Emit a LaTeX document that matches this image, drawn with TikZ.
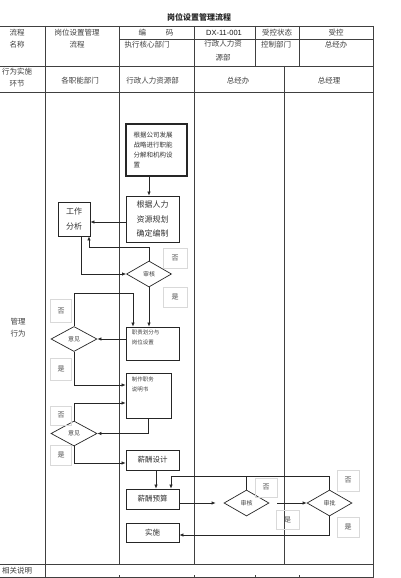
\documentclass[tikz,border=0pt]{standalone}
\usepackage{fontspec}
\setmainfont{Noto Sans CJK SC}
\newfontfamily\latinsans{Liberation Sans}
\usetikzlibrary{shapes.geometric,arrows.meta}
\begin{document}
\begin{tikzpicture}[x=1pt,y=-1pt,
  tl/.style={draw=black!75, line width=0.6pt},
  ht/.style={font=\fontsize{7.5}{12}\selectfont, text=black!75, inner sep=0pt, align=center},
  fbox/.style={draw=black!85, line width=0.8pt, inner sep=0pt, align=center, text=black!80, font=\fontsize{7.5}{14.5}\selectfont},
  smalltxt/.style={inner sep=0pt, align=left, text=black!75, font=\fontsize{5.5}{10}\selectfont, anchor=north west},
  dia/.style={diamond, draw=black!85, line width=0.7pt, inner sep=0pt, minimum width=45pt, minimum height=26pt, text=black!75, font=\fontsize{6}{7}\selectfont},
  lb/.style={draw=black!15, line width=0.5pt, minimum width=22pt, minimum height=20pt, inner sep=0pt, text=black!70, font=\fontsize{7}{8}\selectfont},
  arr/.style={draw=black!85, line width=0.7pt, -{Latex[length=4pt,width=3.5pt]}},
  ln/.style={draw=black!85, line width=0.7pt}]
\useasboundingbox (0,0) rectangle (400,578);
\fill[white] (0,0) rectangle (400,578);

% table lines
\draw[tl] (0,26) -- (373,26);
\draw[tl] (119,39.5) -- (373,39.5);
\draw[tl] (0,66) -- (373,66);
\draw[tl] (0,92) -- (373,92);
\draw[tl] (0,564) -- (373,564);
\draw[tl] (0,577) -- (373,577);
\draw[tl] (45,26) -- (45,577);
\draw[tl] (119,26) -- (119,564);
\draw[tl] (194,26) -- (194,564);
\draw[tl] (255,26) -- (255,66);
\draw[tl] (299,26) -- (299,66);
\draw[tl] (284,66) -- (284,564);
\draw[tl] (373,26) -- (373,578);
\foreach \xx in {119,194,255,299} \draw[tl] (\xx,575) -- (\xx,578);

% header texts
\node[ht, font=\fontsize{8}{10}\selectfont\bfseries, text=black!85] (title) at (199,17) {岗位设置管理流程};
\node[ht] (h1) at (17,39) {流程\\名称};
\node[ht] (h2) at (77,39) {岗位设置管理\\流程};
\node[ht] (h3) at (156,33) {编\hspace{20pt}码};
\node[ht, font=\latinsans\fontsize{7.5}{9}\selectfont, text=black!90] (h4) at (224,32.5) {DX-11-001};
\node[ht] (h5) at (277,33) {受控状态};
\node[ht] (h6) at (336,33) {受控};
\node[ht] (h7) at (147,45) {执行核心部门};
\node[ht, font=\fontsize{7.5}{14}\selectfont] (h8) at (223,51) {行政人力资\\源部};
\node[ht] (h9) at (276,45) {控制部门};
\node[ht] (h10) at (336,45) {总经办};
\node[ht] (h11) at (17,78) {行为实施\\环节};
\node[ht] (h12) at (80,81) {各职能部门};
\node[ht] (h13) at (152.5,81) {行政人力资源部};
\node[ht] (h14) at (238,81) {总经办};
\node[ht] (h15) at (329,81) {总经理};
\node[ht] (h16) at (18,327.5) {管理\\行为};
\node[ht] (h17) at (17,571) {相关说明};

% flow nodes
\node[fbox, line width=1.6pt, minimum width=61pt, minimum height=52pt, font=\fontsize{6.5}{10}\selectfont, text width=46pt, align=left] (b1) at (156.5,150) {根据公司发展\\战略进行职能\\分解和机构设\\置};
\node[fbox, minimum width=53pt, minimum height=46pt, font=\fontsize{8}{14.5}\selectfont] (b2) at (152.5,219) {根据人力\\资源规划\\确定编制};
\node[fbox, minimum width=32pt, minimum height=34pt, font=\fontsize{8}{15}\selectfont] (b3) at (74,219) {工作\\分析};
\node[dia] (d1) at (149,274) {审核};
\node[lb, minimum width=24pt] (l1) at (175,258) {否};
\node[lb, minimum width=24pt] (l2) at (175,297) {是};

\node[fbox, minimum width=53pt, minimum height=33pt] (b5) at (152.5,343.5) {};
\node[smalltxt] (t5) at ([xshift=6pt,yshift=-3pt]b5.north west) {职责划分与\\岗位设置};
\node[dia, minimum width=46pt, minimum height=25pt] (d2) at (74,339) {意见};
\node[lb, minimum width=21pt, minimum height=23pt] (l3) at (61,311) {否};
\node[lb, minimum width=21pt, minimum height=22pt] (l4) at (61,369) {是};

\node[fbox, minimum width=45pt, minimum height=45pt] (b7) at (148.5,395.5) {};
\node[smalltxt] (t7) at ([xshift=6pt,yshift=-4pt]b7.north west) {制作职务\\说明书};
\node[dia, minimum width=46pt, minimum height=25pt] (d3) at (74,433.5) {意见};
\node[lb, minimum width=21pt, minimum height=19pt] (l5) at (61,415.5) {否};
\node[lb, minimum width=21pt, minimum height=20pt] (l6) at (61,455) {是};

\node[fbox, minimum width=53pt, minimum height=20pt] (b9) at (152.5,460) {薪酬设计};
\node[fbox, minimum width=53pt, minimum height=20pt] (b10) at (152.5,499) {薪酬预算};
\node[fbox, minimum width=53pt, minimum height=19pt] (b11) at (152.5,532.5) {实施};
\node[dia] (d4) at (246.5,503) {审核};
\node[lb, minimum width=22pt, minimum height=19pt] (l7) at (266,487.5) {否};
\node[lb, minimum width=23pt, minimum height=19pt] (l8) at (287.5,519.5) {是};
\node[dia] (d5) at (329.5,503) {审批};
\node[lb, minimum width=22pt, minimum height=21pt] (l9) at (348,480.5) {否};
\node[lb, minimum width=22pt, minimum height=20pt] (l10) at (348,527) {是};

% connectors
\draw[arr] ([xshift=-7.5pt]b1.south) -- ([xshift=-7.5pt]b1.south |- b2.north);
\draw[arr] ([yshift=-3pt]b2.west) -- ([yshift=-3pt]b2.west -| b3.east);
\draw[arr] ([xshift=7pt]b3.south) |- (d1.west);
\draw[arr] (d1.north) -- ++(0,-13) -| ([xshift=15pt]b3.south);
\draw[arr] (d1.south) -- (d1.south |- b5.north);
\draw[arr] (b5.west |- d2.east) -- (d2.east);
\draw[arr] (d2.north) -- ++(0,-33) -| ([xshift=-19.5pt]b5.north);
\draw[arr] (d2.south) |- ([yshift=10.5pt]b7.west);
\draw[arr] (b7.south) |- (d3.east);
\draw[arr] (d3.north) |- ([yshift=-7.5pt]b7.west);
\draw[arr] (d3.south) |- ([yshift=-3pt]b9.west);
\draw[arr] ([xshift=3.5pt]b9.south) -- ([xshift=3.5pt]b10.north);
\draw[arr, shorten >=8pt] (b10.east |- d4.west) -- (d4.west);
\draw[arr, shorten <=8pt] (d4.east) -- (d5.west);
\coordinate (j) at ([yshift=13pt]d4.north);
\draw[arr] (d4.north) -- (j) -| ([xshift=18.5pt]b10.north);
\draw[ln] (d5.north) |- (j);
\draw[arr] (d5.south) |- ([yshift=-2.5pt]b11.east);
\end{tikzpicture}
\end{document}
